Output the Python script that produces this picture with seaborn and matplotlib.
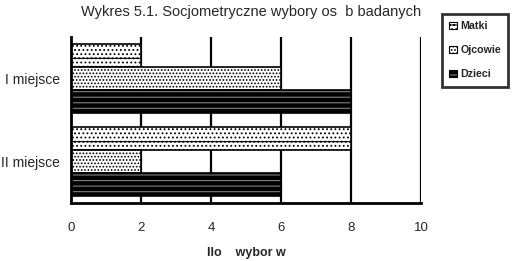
import matplotlib
matplotlib.use("Agg")
import matplotlib.pyplot as plt
import seaborn as sns
import pandas as pd
from matplotlib.patches import Patch

categories = ["I miejsce", "II miejsce"]
series = ["Matki", "Ojcowie", "Dzieci"]
matki = [2, 8]
ojcowie = [6, 2]
dzieci = [8, 6]
x_ticks = [0, 2, 4, 6, 8, 10]

rows = []
for name, vals in zip(series, [matki, ojcowie, dzieci]):
    for c, v in zip(categories, vals):
        rows.append({"miejsce": c, "seria": name, "wartosc": v})
df = pd.DataFrame(rows)

sns.set_style("white")
plt.rcParams["font.family"] = ["Liberation Sans", "DejaVu Sans"]
plt.rcParams["hatch.linewidth"] = 0.8

fig = plt.figure(figsize=(5.12, 2.61), dpi=100)
ax = fig.add_axes([71/512, 1-203/261, 350/512, 166/261])

styles = {
    "Matki": dict(fc="white", hatch="-....", hc=(0, 0, 0, 1)),
    "Ojcowie": dict(fc="white", hatch=".....", hc=(0, 0, 0, 1)),
    "Dzieci": dict(fc="black", hatch="---", hc=(0.5, 0.5, 0.5, 1)),
}


def style_patch(p, st, lw):
    p.set_facecolor(st["fc"])
    p.set_edgecolor("black")
    p.set_hatch(st["hatch"])
    p.set_linewidth(lw)
    try:
        p.set_hatchcolor(st["hc"])
    except AttributeError:
        p._hatch_color = st["hc"]


sns.barplot(data=df, y="miejsce", x="wartosc", hue="seria", order=categories,
            hue_order=series, orient="h", width=0.82, ax=ax, legend=False,
            palette=["white", "white", "black"], saturation=1)

for cont, name in zip(ax.containers, series):
    for p in cont:
        style_patch(p, styles[name], 1.2)
        p.set_zorder(3)

ax.set_xlim(0, 10)
ax.set_ylim(1.5, -0.5)
ax.set_xticks(x_ticks)
ax.set_xticklabels([str(t) for t in x_ticks], fontsize=9.5)
ax.set_yticks([0, 1])
ax.set_yticklabels(categories, fontsize=10)
ax.set_yticks([-0.5, 0.5, 1.5], minor=True)
ax.tick_params(axis="y", which="major", length=0, pad=8)
ax.tick_params(axis="y", which="minor", length=10, width=2, direction="inout", color="black")
ax.tick_params(axis="x", which="major", length=6, width=2, direction="out", color="black", pad=8)
ax.set_ylabel("")
ax.set_xlabel("Ilo    wybor w", fontsize=9, fontweight="bold", labelpad=9)

ax.grid(False)
for t in x_ticks[1:]:
    ax.axvline(t, color="black", lw=1.6, zorder=1)

for s in ["top", "right"]:
    ax.spines[s].set_visible(False)
for s in ["left", "bottom"]:
    ax.spines[s].set_color("black")
    ax.spines[s].set_linewidth(2)
    ax.spines[s].set_zorder(4)

fig.text(251/512, 1-12/261, "Wykres 5.1. Socjometryczne wybory os  b badanych",
         ha="center", va="center", fontsize=10.5)

handles = []
for n in series:
    h = Patch(facecolor=styles[n]["fc"], edgecolor="black", hatch=styles[n]["hatch"],
              linewidth=0.8, label=n)
    handles.append(h)
leg = fig.legend(handles=handles, loc="upper left", bbox_to_anchor=(442/512, 1-14/261),
                 frameon=True, fancybox=False, edgecolor="black",
                 prop={"weight": "bold", "size": 7.7}, handlelength=0.7, handleheight=0.7,
                 handletextpad=0.3, labelspacing=1.3, borderpad=0.7, borderaxespad=0)
leg.get_frame().set_linewidth(2)
for h, n in zip(leg.legend_handles, series):
    try:
        h.set_hatchcolor(styles[n]["hc"])
    except AttributeError:
        h._hatch_color = styles[n]["hc"]

fig.savefig("out.png", dpi=100)
